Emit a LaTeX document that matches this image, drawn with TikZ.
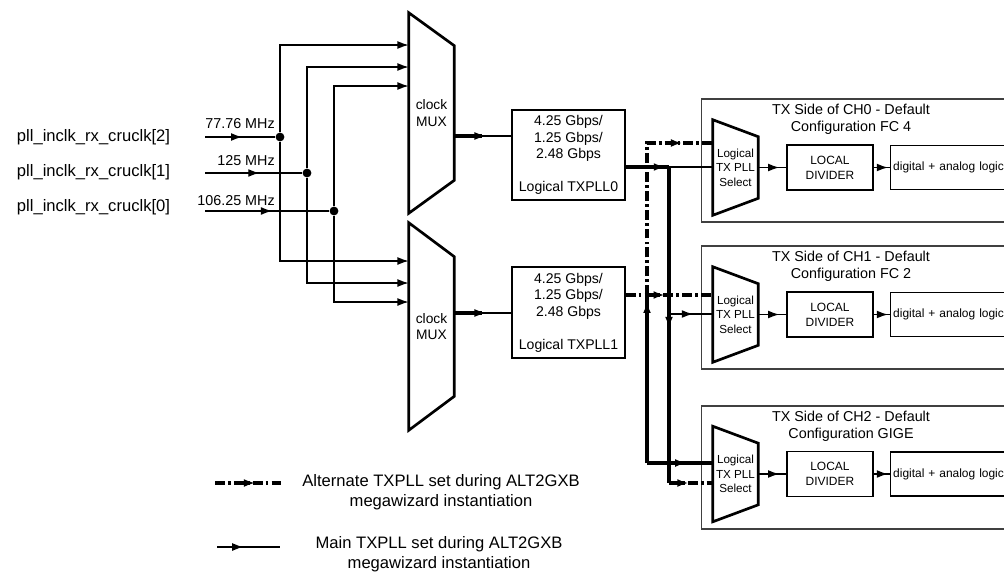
\documentclass[tikz,border=0pt]{standalone}
\usepackage{fontspec}
\setmainfont{Liberation Sans}
\usepackage{tikz}
\usetikzlibrary{arrows.meta, positioning, decorations.markings}

\begin{document}
\begin{tikzpicture}[x=0.025cm, y=-0.025cm,
    every node/.style={align=center},
    wire/.style={line width=0.9pt},
    thickwire/.style={line width=2.2pt},
    altwire/.style={line width=2.5pt, dash pattern=on 7pt off 2.2pt on 2pt off 2.2pt},
    midarrow/.style={postaction={decorate}, decoration={markings, mark=at position #1 with {\arrow{Latex[length=8pt,width=5.6pt]}}}},
    tipend/.style={-{Latex[length=8pt,width=5.6pt]}},
    dot/.style={circle, fill, inner sep=0pt, minimum size=0.22cm},
    biglbl/.style={font=\fontsize{11.8}{14.2}\selectfont},
    freqlbl/.style={font=\fontsize{10.2}{12}\selectfont, inner sep=0pt},
    muxtxt/.style={font=\fontsize{9.8}{11.9}\selectfont, inner sep=0pt, minimum width=1.125cm},
    shapeline/.style={line width=1.9pt},
    pllbox/.style={draw, wire, inner sep=0pt, minimum width=2.825cm, font=\fontsize{10}{11.7}\selectfont},
    chbox/.style={draw=black!75, wire, inner sep=0pt, minimum width=8cm, minimum height=3.075cm},
    chtitle/.style={font=\fontsize{10.2}{12}\selectfont},
    seltxt/.style={font=\fontsize{8.3}{10.3}\selectfont, inner sep=0pt, minimum width=1.125cm, minimum height=2.375cm},
    divbox/.style={draw, wire, inner sep=0pt, minimum width=2.15cm, minimum height=1.125cm, font=\fontsize{8.5}{10.7}\selectfont},
    digbox/.style={draw, wire, inner xsep=0.075cm, text width=4cm, align=left, minimum height=1.1cm, font=\fontsize{8.5}{10.5}\selectfont}]
    \useasboundingbox (0,0) rectangle (1004,572);

    % clock inputs
    \node[biglbl, anchor=west] (lbl2) at (12,137) {pll\_inclk\_rx\_cruclk[2]};
    \node[biglbl, anchor=west] (lbl1) at (12,172) {pll\_inclk\_rx\_cruclk[1]};
    \node[biglbl, anchor=west] (lbl0) at (12,207) {pll\_inclk\_rx\_cruclk[0]};
    \node[freqlbl, anchor=base east] (f2) at (275,128) {77.76 MHz};
    \node[freqlbl, anchor=base east] (f1) at (275,165) {125 MHz};
    \node[freqlbl, anchor=base east] (f0) at (275,205) {106.25 MHz};
    \coordinate (in2) at (205,137);
    \coordinate (in1) at (205,173);
    \coordinate (in0) at (205,211);
    \node[dot] (d2) at (280,137) {};
    \node[dot] (d1) at (307,173) {};
    \node[dot] (d0) at (334,211) {};
    \draw[wire, midarrow=0.53] (in2) -- (d2);
    \draw[wire, midarrow=0.56] (in1) -- (d1);
    \draw[wire, midarrow=0.54] (in0) -- (d0);

    % clock muxes
    \node[muxtxt, minimum height=5cm] (mux0) at (431.5,113) {clock\\MUX};
    \node[muxtxt, minimum height=5.175cm] (mux1) at (431.5,326.5) {clock\\MUX};
    \draw[shapeline] (mux0.north west) -- ([yshift=-0.825cm]mux0.north east) -- ([yshift=0.825cm]mux0.south east) -- (mux0.south west) -- cycle;
    \draw[shapeline] (mux1.north west) -- ([yshift=-0.85cm]mux1.north east) -- ([yshift=0.85cm]mux1.south east) -- (mux1.south west) -- cycle;

    \draw[wire, tipend] (d2) |- (mux0.west |- 0,45);
    \draw[wire, tipend] (d1) |- (mux0.west |- 0,67);
    \draw[wire, tipend] (d0) |- (mux0.west |- 0,86);
    \draw[wire, tipend] (d2) |- (mux1.west |- 0,261);
    \draw[wire, tipend] (d1) |- (mux1.west |- 0,283);
    \draw[wire, tipend] (d0) |- (mux1.west |- 0,302);

    % logical TX PLLs
    \node[pllbox, minimum height=2.25cm] (pll0) at (568.5,155) {4.25 Gbps/\\1.25 Gbps/\\2.48 Gbps\\[11.7pt]Logical TXPLL0};
    \node[pllbox, minimum height=2.275cm] (pll1) at (568.5,312.5) {4.25 Gbps/\\1.25 Gbps/\\2.48 Gbps\\[11.7pt]Logical TXPLL1};
    \draw[wire, midarrow=0.55] (mux0.east |- 0,136) -- (pll0.west |- 0,136);
    \draw[thickwire] (mux0.east |- 0,136) -- ++(28,0);
    \draw[wire, midarrow=0.55] (mux1.east |- 0,313) -- (pll1.west |- 0,313);
    \draw[thickwire] (mux1.east |- 0,313) -- ++(28,0);

    % TX channels
    \node[chbox, anchor=west] (ch0) at (701,160.5) {};
    \node[chtitle] (ch0t) at (851,119.5) {TX Side of CH0 - Default\\Configuration FC 4};
    \node[seltxt] (sel0) at (735.5,167.5) {Logical\\TX PLL\\Select};
    \node[divbox, right=0.7cm of sel0] (div0) {LOCAL\\DIVIDER};
    \node[digbox, right=0.4cm of div0] (dig0) {digital + analog logic};

    \node[chbox, anchor=west] (ch1) at (701,307.5) {};
    \node[chtitle] (ch1t) at (851,266.5) {TX Side of CH1 - Default\\Configuration FC 2};
    \node[seltxt] (sel1) at (735.5,314.5) {Logical\\TX PLL\\Select};
    \node[divbox, right=0.7cm of sel1] (div1) {LOCAL\\DIVIDER};
    \node[digbox, right=0.4cm of div1] (dig1) {digital + analog logic};

    \node[chbox, anchor=west] (ch2) at (701,467.5) {};
    \node[chtitle] (ch2t) at (851,426) {TX Side of CH2 - Default\\Configuration GIGE};
    \node[seltxt] (sel2) at (735.5,474) {Logical\\TX PLL\\Select};
    \node[divbox, right=0.7cm of sel2] (div2) {LOCAL\\DIVIDER};
    \node[digbox, right=0.4cm of div2] (dig2) {digital + analog logic};

    \draw[shapeline] (sel0.north west) -- ([yshift=-0.425cm]sel0.north east) -- ([yshift=0.425cm]sel0.south east) -- (sel0.south west) -- cycle;
    \draw[shapeline] (sel1.north west) -- ([yshift=-0.425cm]sel1.north east) -- ([yshift=0.425cm]sel1.south east) -- (sel1.south west) -- cycle;
    \draw[shapeline] (sel2.north west) -- ([yshift=-0.425cm]sel2.north east) -- ([yshift=0.425cm]sel2.south east) -- (sel2.south west) -- cycle;

    \draw[wire, midarrow=0.75] (sel0) -- (div0);
    \draw[wire, midarrow=0.9] (div0) -- (dig0);
    \draw[wire, midarrow=0.75] (sel1) -- (div1);
    \draw[wire, midarrow=0.9] (div1) -- (dig1);
    \draw[wire, midarrow=0.75] (sel2) -- (div2);
    \draw[wire, midarrow=0.9] (div2) -- (dig2);

    % main TXPLL0 routing
    \coordinate (v0a) at (669,167);
    \coordinate (v0b) at (669,314);
    \coordinate (v0c) at (669,483);
    \draw[thickwire, midarrow=0.91] (pll0.east |- v0a) -- (v0a);
    \draw[wire] (v0a) -- (sel0.west |- v0a);
    \draw[thickwire, midarrow=0.51] (v0a) -- (v0c);
    \draw[wire, midarrow=0.55] (v0b) -- (sel1.west |- v0b);
    \draw[altwire, midarrow=0.45] (v0c) -- (sel2.west |- v0c);

    % TXPLL1 routing
    \coordinate (v1a) at (647,295);
    \coordinate (v1b) at (647,143);
    \coordinate (v1c) at (647,463);
    \draw[altwire, midarrow=0.45] (pll1.east |- v1a) -- (sel1.west |- v1a);
    \draw[altwire, midarrow=0.86] (v1a) -- (v1b) -- (sel0.west |- v1b);
    \draw[thickwire, midarrow=0.96] (v1c) -- (v1a);
    \draw[thickwire, midarrow=0.6] (v1c) -- (sel2.west |- v1c);

    % legend
    \coordinate (lga) at (215,483);
    \coordinate (lgb) at (282,483);
    \coordinate (lgc) at (217,547);
    \coordinate (lgd) at (280,547);
    \draw[altwire, midarrow=0.6] (lga) -- (lgb);
    \draw[wire, midarrow=0.42] (lgc) -- (lgd);
    \node[biglbl] (lgat) at (441,492) {Alternate TXPLL set during ALT2GXB\\megawizard instantiation};
    \node[biglbl] (lgmt) at (439,554) {Main TXPLL set during ALT2GXB\\megawizard instantiation};
\end{tikzpicture}
\end{document}
